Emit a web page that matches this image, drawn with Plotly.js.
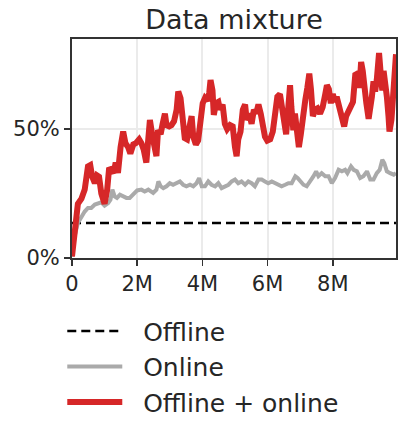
<!DOCTYPE html>
<html>
<head>
<meta charset="utf-8">
<script src="https://cdn.plot.ly/plotly-3.0.1.min.js"></script>
<style>
  html, body { margin: 0; padding: 0; background: #fff; }
  #chart { width: 407px; height: 440px; }
</style>
</head>
<body>
<div id="chart"></div>
<script>
'use strict'
// training steps in millions, values in percent
var offlineLevel = 13.6;

var onlineSteps = [0, 0.08, 0.18, 0.29, 0.39, 0.49, 0.59, 0.70, 0.80, 0.90, 1.00, 1.11, 1.18, 1.24, 1.31, 1.38, 1.47, 1.57, 1.67, 1.77,
  1.90, 2.00, 2.13, 2.23, 2.34, 2.49, 2.59, 2.65, 2.72, 2.80, 2.90, 3.00, 3.10, 3.21, 3.31, 3.41, 3.51, 3.62, 3.72, 3.82,
  3.90, 3.98, 4.08, 4.18, 4.28, 4.39, 4.49, 4.59, 4.69, 4.80, 4.90, 5.00, 5.10, 5.20, 5.31, 5.41, 5.51, 5.61, 5.72, 5.82,
  5.92, 6.02, 6.13, 6.23, 6.33, 6.43, 6.54, 6.64, 6.74, 6.85, 6.92, 7.00, 7.10, 7.20, 7.31, 7.41, 7.49, 7.56, 7.66, 7.77,
  7.87, 7.97, 8.07, 8.18, 8.28, 8.38, 8.45, 8.56, 8.64, 8.74, 8.84, 8.94, 9.05, 9.15, 9.25, 9.35, 9.44, 9.52, 9.58, 9.66,
  9.76, 9.87, 9.94];
var onlineVals = [0.6, 8.4, 13.6, 16, 18, 19.4, 19.4, 20.7, 21.3, 21.6, 20.3, 21.3, 22.6, 26.5, 23.9, 23.3, 24.5, 23.9, 23.3, 23.3,
  25.2, 26.2, 26.5, 25.8, 26.5, 25.2, 26.5, 29.7, 27.8, 27.1, 27.8, 29, 28.4, 29, 29.7, 28.4, 27.8, 28.4, 27.8, 29,
  31, 27.8, 27.8, 29.7, 28.4, 27.8, 29, 27.1, 27.8, 28.4, 29.7, 30.4, 29, 29.7, 28.4, 29.7, 29, 27.8, 30.4, 30.4,
  29.7, 29, 29.7, 29, 28.4, 27.8, 28.4, 29, 29, 31.7, 31, 29.7, 28.4, 27.8, 29.7, 31.7, 33.6, 31.7, 32.9, 31.7,
  31.7, 29, 31, 34.2, 33.6, 34.2, 32.9, 35.5, 34.2, 33.6, 31, 31.7, 33.6, 30.4, 30.4, 32.9, 34.2, 38.1, 36.8, 33.6,
  32.9, 32.3, 32.9];

var mixSteps = [0, 0.08, 0.18, 0.29, 0.39, 0.49, 0.56, 0.62, 0.70, 0.77, 0.83, 0.90, 1.00, 1.08, 1.14, 1.21, 1.28, 1.34, 1.41, 1.49,
  1.57, 1.64, 1.72, 1.79, 1.88, 1.96, 2.06, 2.13, 2.20, 2.28, 2.34, 2.39, 2.47, 2.54, 2.59, 2.64, 2.72, 2.78, 2.85, 2.90,
  2.98, 3.05, 3.13, 3.21, 3.26, 3.33, 3.39, 3.46, 3.53, 3.60, 3.67, 3.72, 3.80, 3.87, 3.94, 4.01, 4.08, 4.15, 4.21, 4.25,
  4.31, 4.35, 4.42, 4.49, 4.54, 4.62, 4.69, 4.76, 4.85, 4.93, 5.00, 5.05, 5.10, 5.17, 5.24, 5.31, 5.36, 5.44, 5.51, 5.58,
  5.65, 5.72, 5.79, 5.85, 5.92, 5.99, 6.08, 6.16, 6.23, 6.30, 6.38, 6.44, 6.51, 6.57, 6.63, 6.69, 6.73, 6.79, 6.84, 6.90,
  6.96, 7.02, 7.08, 7.16, 7.22, 7.28, 7.33, 7.39, 7.46, 7.53, 7.61, 7.69, 7.77, 7.82, 7.88, 7.94, 8.00, 8.07, 8.12, 8.21,
  8.28, 8.35, 8.41, 8.48, 8.53, 8.62, 8.69, 8.76, 8.82, 8.87, 8.92, 8.97, 9.03, 9.10, 9.15, 9.20, 9.25, 9.30, 9.35, 9.42,
  9.48, 9.52, 9.56, 9.61, 9.66, 9.71, 9.74, 9.80, 9.85, 9.90, 9.94];
var mixVals = [0.6, 12, 21, 23, 26.5, 35.5, 36, 31.5, 29, 32, 31.5, 25, 21, 26.5, 35, 34, 33, 37, 33, 43,
  49, 44.5, 43, 40.5, 44, 44.5, 46, 44.5, 42, 37, 44.5, 53.5, 47, 41, 39.5, 49.5, 48, 52, 56, 51.5,
  51, 51.5, 53, 57.5, 64.5, 62, 56, 46.5, 46, 52, 55, 47, 44, 45.5, 56, 60, 62, 61, 64, 69,
  65, 55.5, 60, 60.5, 57.5, 59.5, 52, 50, 51.5, 51, 43, 39.5, 46, 49, 57.5, 59.5, 53.5, 56, 52, 57.5,
  56, 59.5, 56, 52, 47, 45.5, 46, 49, 56, 62.5, 63.5, 57.5, 52, 48, 57.5, 67, 58.5, 49.5, 56, 49.5,
  43, 48, 56, 61.5, 66, 71.5, 65.5, 55, 57.5, 58, 56, 58.5, 63.5, 67, 65.5, 60, 63.5, 60.5, 62.5, 57.5,
  55.5, 51, 55, 57, 58.5, 60.5, 71, 71.5, 66, 76, 72.5, 65, 60, 54, 57.5, 62.5, 68.5, 64.5, 69, 79.5,
  70, 65, 72.5, 63.5, 62.5, 55, 49, 53.5, 67, 77, 79];

var xTickVals = [0, 2, 4, 6, 8];
var xTickText = ['0', '2M', '4M', '6M', '8M'];
var yTickVals = [0, 50];
var yTickText = ['0%', '50%'];
var seriesNames = ['Offline', 'Online', 'Offline + online'];

var textColor = '#262626';
var font = 'DejaVu Sans, sans-serif';
// two no-break spaces push the legend text away from the line sample
var pad = '\u00a0\u00a0';

var offlineTrace = {
  type: 'scatter',
  mode: 'lines',
  name: pad + seriesNames[0],
  legendgroup: 'a',
  x: [0, 9.94],
  y: [offlineLevel, offlineLevel],
  line: {color: '#000000', width: 2.5, dash: '9px,5px'}
};

var onlineTrace = {
  type: 'scatter',
  mode: 'lines',
  name: pad + seriesNames[1],
  legendgroup: 'b',
  x: onlineSteps,
  y: onlineVals,
  line: {color: '#aaaaaa', width: 4}
};

var mixTrace = {
  type: 'scatter',
  mode: 'lines',
  name: pad + seriesNames[2],
  legendgroup: 'c',
  x: mixSteps,
  y: mixVals,
  line: {color: '#d62728', width: 6}
};

var axisStyle = {
  ticks: 'outside',
  ticklen: 6,
  tickwidth: 1.5,
  tickcolor: '#333333',
  showline: true,
  linecolor: '#333333',
  linewidth: 2,
  mirror: true,
  showgrid: true,
  gridcolor: '#ebebeb',
  gridwidth: 2,
  zeroline: false,
  tickfont: {size: 21, color: textColor}
};

var layout = {
  width: 407,
  height: 440,
  margin: {l: 72, r: 11, t: 39, b: 182, pad: 0, autoexpand: false},
  paper_bgcolor: '#ffffff',
  plot_bgcolor: '#ffffff',
  font: {family: font, color: textColor, size: 21},
  title: {
    text: 'Data mixture',
    font: {family: font, size: 27, color: textColor},
    xref: 'paper',
    x: 0.5,
    xanchor: 'center',
    yref: 'container',
    y: 0.955,
    yanchor: 'middle'
  },
  xaxis: Object.assign({range: [0, 9.94], tickvals: xTickVals, ticktext: xTickText}, axisStyle),
  yaxis: Object.assign({range: [0, 84.9], tickvals: yTickVals, ticktext: yTickText}, axisStyle),
  showlegend: true,
  legend: {
    x: -0.03,
    xanchor: 'left',
    y: -0.23,
    yanchor: 'top',
    orientation: 'v',
    traceorder: 'grouped',
    tracegroupgap: 0,
    itemwidth: 55,
    bgcolor: 'rgba(0,0,0,0)',
    font: {family: font, size: 25, color: textColor}
  }
};

Plotly.newPlot('chart', [offlineTrace, onlineTrace, mixTrace], layout, {displayModeBar: false, staticPlot: true});
</script>
</body>
</html>
